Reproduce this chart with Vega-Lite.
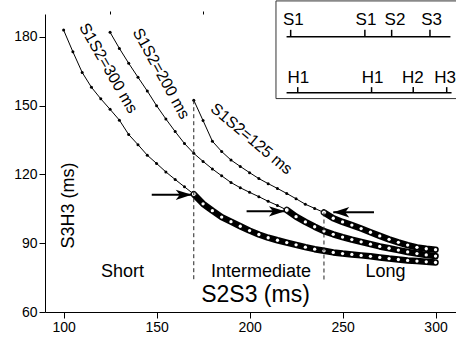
{
  "$schema": "https://vega.github.io/schema/vega-lite/v6.json",
  "width": 411,
  "height": 298,
  "autosize": "none",
  "padding": {"left": 45, "top": 14, "right": 0, "bottom": 27},
  "background": "white",
  "config": {
    "view": {"stroke": null},
    "font": "Liberation Sans, Arial, sans-serif",
    "axis": {"grid": false, "domainColor": "black", "tickColor": "black", "labelColor": "black", "titleColor": "black", "labelFont": "Liberation Sans, Arial, sans-serif", "titleFont": "Liberation Sans, Arial, sans-serif", "titleFontWeight": "normal", "domainWidth": 1, "tickWidth": 1}
  },
  "datasets": {
    "curves": [
      {"s1s2": "300", "s2s3": 100, "s3h3": 183.0, "seg": "thin"},
      {"s1s2": "300", "s2s3": 105, "s3h3": 173.5, "seg": "thin"},
      {"s1s2": "300", "s2s3": 110, "s3h3": 164.5, "seg": "thin"},
      {"s1s2": "300", "s2s3": 115, "s3h3": 158.0, "seg": "thin"},
      {"s1s2": "300", "s2s3": 120, "s3h3": 153.0, "seg": "thin"},
      {"s1s2": "300", "s2s3": 125, "s3h3": 148.4, "seg": "thin"},
      {"s1s2": "300", "s2s3": 130, "s3h3": 143.7, "seg": "thin"},
      {"s1s2": "300", "s2s3": 135, "s3h3": 137.4, "seg": "thin"},
      {"s1s2": "300", "s2s3": 140, "s3h3": 133.0, "seg": "thin"},
      {"s1s2": "300", "s2s3": 145, "s3h3": 128.4, "seg": "thin"},
      {"s1s2": "300", "s2s3": 150, "s3h3": 124.8, "seg": "thin"},
      {"s1s2": "300", "s2s3": 155, "s3h3": 121.1, "seg": "thin"},
      {"s1s2": "300", "s2s3": 160, "s3h3": 117.8, "seg": "thin"},
      {"s1s2": "300", "s2s3": 165, "s3h3": 114.6, "seg": "thin"},
      {"s1s2": "300", "s2s3": 170, "s3h3": 111.4, "seg": "thin"},
      {"s1s2": "300", "s2s3": 170, "s3h3": 111.4, "seg": "thick"},
      {"s1s2": "300", "s2s3": 175, "s3h3": 107.2, "seg": "thick"},
      {"s1s2": "300", "s2s3": 180, "s3h3": 104.2, "seg": "thick"},
      {"s1s2": "300", "s2s3": 185, "s3h3": 101.4, "seg": "thick"},
      {"s1s2": "300", "s2s3": 190, "s3h3": 99.4, "seg": "thick"},
      {"s1s2": "300", "s2s3": 195, "s3h3": 97.4, "seg": "thick"},
      {"s1s2": "300", "s2s3": 200, "s3h3": 95.5, "seg": "thick"},
      {"s1s2": "300", "s2s3": 205, "s3h3": 93.8, "seg": "thick"},
      {"s1s2": "300", "s2s3": 210, "s3h3": 92.4, "seg": "thick"},
      {"s1s2": "300", "s2s3": 215, "s3h3": 91.3, "seg": "thick"},
      {"s1s2": "300", "s2s3": 220, "s3h3": 90.3, "seg": "thick"},
      {"s1s2": "300", "s2s3": 225, "s3h3": 89.3, "seg": "thick"},
      {"s1s2": "300", "s2s3": 230, "s3h3": 88.3, "seg": "thick"},
      {"s1s2": "300", "s2s3": 235, "s3h3": 87.4, "seg": "thick"},
      {"s1s2": "300", "s2s3": 240, "s3h3": 86.7, "seg": "thick"},
      {"s1s2": "300", "s2s3": 245, "s3h3": 86.0, "seg": "thick"},
      {"s1s2": "300", "s2s3": 250, "s3h3": 85.5, "seg": "thick"},
      {"s1s2": "300", "s2s3": 255, "s3h3": 85.1, "seg": "thick"},
      {"s1s2": "300", "s2s3": 260, "s3h3": 84.7, "seg": "thick"},
      {"s1s2": "300", "s2s3": 265, "s3h3": 84.3, "seg": "thick"},
      {"s1s2": "300", "s2s3": 270, "s3h3": 83.8, "seg": "thick"},
      {"s1s2": "300", "s2s3": 275, "s3h3": 83.3, "seg": "thick"},
      {"s1s2": "300", "s2s3": 280, "s3h3": 82.9, "seg": "thick"},
      {"s1s2": "300", "s2s3": 285, "s3h3": 82.5, "seg": "thick"},
      {"s1s2": "300", "s2s3": 290, "s3h3": 82.2, "seg": "thick"},
      {"s1s2": "300", "s2s3": 295, "s3h3": 81.9, "seg": "thick"},
      {"s1s2": "300", "s2s3": 300, "s3h3": 81.6, "seg": "thick"},
      {"s1s2": "200", "s2s3": 125, "s3h3": 182.0, "seg": "thin"},
      {"s1s2": "200", "s2s3": 130, "s3h3": 175.0, "seg": "thin"},
      {"s1s2": "200", "s2s3": 135, "s3h3": 168.5, "seg": "thin"},
      {"s1s2": "200", "s2s3": 140, "s3h3": 162.4, "seg": "thin"},
      {"s1s2": "200", "s2s3": 145, "s3h3": 156.4, "seg": "thin"},
      {"s1s2": "200", "s2s3": 150, "s3h3": 150.0, "seg": "thin"},
      {"s1s2": "200", "s2s3": 155, "s3h3": 144.2, "seg": "thin"},
      {"s1s2": "200", "s2s3": 160, "s3h3": 138.7, "seg": "thin"},
      {"s1s2": "200", "s2s3": 165, "s3h3": 133.5, "seg": "thin"},
      {"s1s2": "200", "s2s3": 170, "s3h3": 129.2, "seg": "thin"},
      {"s1s2": "200", "s2s3": 175, "s3h3": 125.7, "seg": "thin"},
      {"s1s2": "200", "s2s3": 180, "s3h3": 122.4, "seg": "thin"},
      {"s1s2": "200", "s2s3": 185, "s3h3": 119.4, "seg": "thin"},
      {"s1s2": "200", "s2s3": 190, "s3h3": 116.5, "seg": "thin"},
      {"s1s2": "200", "s2s3": 195, "s3h3": 114.2, "seg": "thin"},
      {"s1s2": "200", "s2s3": 200, "s3h3": 112.2, "seg": "thin"},
      {"s1s2": "200", "s2s3": 205, "s3h3": 110.3, "seg": "thin"},
      {"s1s2": "200", "s2s3": 210, "s3h3": 108.3, "seg": "thin"},
      {"s1s2": "200", "s2s3": 215, "s3h3": 106.5, "seg": "thin"},
      {"s1s2": "200", "s2s3": 220, "s3h3": 104.5, "seg": "thin"},
      {"s1s2": "200", "s2s3": 220, "s3h3": 104.5, "seg": "thick"},
      {"s1s2": "200", "s2s3": 225, "s3h3": 101.6, "seg": "thick"},
      {"s1s2": "200", "s2s3": 230, "s3h3": 99.3, "seg": "thick"},
      {"s1s2": "200", "s2s3": 235, "s3h3": 97.2, "seg": "thick"},
      {"s1s2": "200", "s2s3": 240, "s3h3": 95.3, "seg": "thick"},
      {"s1s2": "200", "s2s3": 245, "s3h3": 93.9, "seg": "thick"},
      {"s1s2": "200", "s2s3": 250, "s3h3": 92.7, "seg": "thick"},
      {"s1s2": "200", "s2s3": 255, "s3h3": 91.6, "seg": "thick"},
      {"s1s2": "200", "s2s3": 260, "s3h3": 90.6, "seg": "thick"},
      {"s1s2": "200", "s2s3": 265, "s3h3": 89.6, "seg": "thick"},
      {"s1s2": "200", "s2s3": 270, "s3h3": 88.6, "seg": "thick"},
      {"s1s2": "200", "s2s3": 275, "s3h3": 87.8, "seg": "thick"},
      {"s1s2": "200", "s2s3": 280, "s3h3": 87.0, "seg": "thick"},
      {"s1s2": "200", "s2s3": 285, "s3h3": 86.2, "seg": "thick"},
      {"s1s2": "200", "s2s3": 290, "s3h3": 85.5, "seg": "thick"},
      {"s1s2": "200", "s2s3": 295, "s3h3": 84.9, "seg": "thick"},
      {"s1s2": "200", "s2s3": 300, "s3h3": 84.4, "seg": "thick"},
      {"s1s2": "125", "s2s3": 170, "s3h3": 152.4, "seg": "thin"},
      {"s1s2": "125", "s2s3": 175, "s3h3": 143.5, "seg": "thin"},
      {"s1s2": "125", "s2s3": 180, "s3h3": 134.5, "seg": "thin"},
      {"s1s2": "125", "s2s3": 185, "s3h3": 130.0, "seg": "thin"},
      {"s1s2": "125", "s2s3": 190, "s3h3": 126.3, "seg": "thin"},
      {"s1s2": "125", "s2s3": 195, "s3h3": 123.5, "seg": "thin"},
      {"s1s2": "125", "s2s3": 200, "s3h3": 120.8, "seg": "thin"},
      {"s1s2": "125", "s2s3": 205, "s3h3": 118.2, "seg": "thin"},
      {"s1s2": "125", "s2s3": 210, "s3h3": 116.0, "seg": "thin"},
      {"s1s2": "125", "s2s3": 215, "s3h3": 113.9, "seg": "thin"},
      {"s1s2": "125", "s2s3": 220, "s3h3": 111.7, "seg": "thin"},
      {"s1s2": "125", "s2s3": 225, "s3h3": 109.4, "seg": "thin"},
      {"s1s2": "125", "s2s3": 230, "s3h3": 107.0, "seg": "thin"},
      {"s1s2": "125", "s2s3": 235, "s3h3": 105.2, "seg": "thin"},
      {"s1s2": "125", "s2s3": 240, "s3h3": 103.4, "seg": "thin"},
      {"s1s2": "125", "s2s3": 240, "s3h3": 103.4, "seg": "thick"},
      {"s1s2": "125", "s2s3": 245, "s3h3": 100.9, "seg": "thick"},
      {"s1s2": "125", "s2s3": 250, "s3h3": 99.3, "seg": "thick"},
      {"s1s2": "125", "s2s3": 255, "s3h3": 97.9, "seg": "thick"},
      {"s1s2": "125", "s2s3": 260, "s3h3": 96.4, "seg": "thick"},
      {"s1s2": "125", "s2s3": 265, "s3h3": 94.8, "seg": "thick"},
      {"s1s2": "125", "s2s3": 270, "s3h3": 93.2, "seg": "thick"},
      {"s1s2": "125", "s2s3": 275, "s3h3": 91.7, "seg": "thick"},
      {"s1s2": "125", "s2s3": 280, "s3h3": 90.4, "seg": "thick"},
      {"s1s2": "125", "s2s3": 285, "s3h3": 89.2, "seg": "thick"},
      {"s1s2": "125", "s2s3": 290, "s3h3": 88.2, "seg": "thick"},
      {"s1s2": "125", "s2s3": 295, "s3h3": 87.6, "seg": "thick"},
      {"s1s2": "125", "s2s3": 300, "s3h3": 87.2, "seg": "thick"}
    ],
    "arrows": [
      {"tail": 147.4, "tip": 168.9, "s3h3": 111.1, "dir": "right"},
      {"tail": 198.4, "tip": 219.0, "s3h3": 103.9, "dir": "right"},
      {"tail": 266.9, "tip": 245.0, "s3h3": 103.5, "dir": "left"}
    ],
    "dividers": [
      {"s2s3": 170, "top": 152.4, "bottom": 73.8},
      {"s2s3": 240, "top": 103.4, "bottom": 73.8}
    ],
    "regions": [
      {"label": "Short", "s2s3": 131.7, "s3h3": 75.4},
      {"label": "Intermediate", "s2s3": 206.1, "s3h3": 75.4},
      {"label": "Long", "s2s3": 273.1, "s3h3": 75.4}
    ],
    "curveLabels": [
      {"label": "S1S2=300 ms", "s2s3": 124.0, "s3h3": 166.3},
      {"label": "S1S2=200 ms", "s2s3": 152.4, "s3h3": 164.0},
      {"label": "S1S2=125 ms", "s2s3": 201.0, "s3h3": 135.5}
    ],
    "insetBox": [{"left": 214.2, "right": 313, "top": 195.7, "bottom": 153.1}],
    "insetLines": [
      {"start": 219.9, "end": 308.0, "level": 180.1},
      {"start": 219.9, "end": 308.6, "level": 155.7}
    ],
    "insetTicks": [
      {"pos": 222.1, "low": 180.1, "high": 183.1},
      {"pos": 262.0, "low": 180.1, "high": 183.1},
      {"pos": 276.4, "low": 180.1, "high": 183.1},
      {"pos": 297.0, "low": 180.1, "high": 183.1},
      {"pos": 225.9, "low": 155.7, "high": 158.1},
      {"pos": 265.6, "low": 155.7, "high": 158.1},
      {"pos": 288.0, "low": 155.7, "high": 158.1},
      {"pos": 306.0, "low": 155.7, "high": 158.1}
    ],
    "insetLabels": [
      {"label": "S1", "pos": 223.5, "level": 185.2},
      {"label": "S1", "pos": 262.6, "level": 185.2},
      {"label": "S2", "pos": 278.2, "level": 185.2},
      {"label": "S3", "pos": 297.9, "level": 185.2},
      {"label": "H1", "pos": 226.2, "level": 159.8},
      {"label": "H1", "pos": 266.1, "level": 159.8},
      {"label": "H2", "pos": 287.8, "level": 159.8},
      {"label": "H3", "pos": 305.1, "level": 159.8}
    ]
  },
  "resolve": {"axis": {"x": "independent", "y": "independent"}},
  "layer": [
    {
      "data": {"name": "curves"},
      "transform": [{"filter": "datum.seg === 'thin'"}],
      "mark": {"type": "line", "color": "black", "strokeWidth": 1},
      "encoding": {
        "x": {"field": "s2s3", "type": "quantitative", "scale": {"domain": [90, 311], "nice": false, "zero": false},
          "axis": {"values": [100, 150, 200, 250, 300], "tickSize": 6, "labelFontSize": 14, "labelPadding": 2, "labelFlush": false, "format": "d",
            "title": "S2S3 (ms)", "titleFontSize": 23, "titleX": 210, "titleY": -11, "titleBaseline": "alphabetic", "titleAlign": "center", "titleAnchor": null}},
        "y": {"field": "s3h3", "type": "quantitative", "scale": {"domain": [60, 190], "nice": false, "zero": false},
          "axis": {"values": [60, 90, 120, 150, 180], "tickSize": 6, "labelFontSize": 14, "labelPadding": 2, "labelFlush": false, "format": "d",
            "title": "S3H3 (ms)", "titleFontSize": 18, "titleAngle": -90, "titleX": 32, "titleY": 191, "titleBaseline": "bottom", "titleAlign": "center", "titleAnchor": null}},
        "detail": {"field": "s1s2"}
      }
    },
    {
      "data": {"name": "curves"},
      "transform": [{"filter": "datum.seg === 'thin'"}],
      "mark": {"type": "point", "filled": true, "color": "black", "size": 9, "opacity": 1},
      "encoding": {
        "x": {"field": "s2s3", "type": "quantitative", "scale": {"domain": [90, 311], "nice": false, "zero": false},
          "axis": {"values": [125, 175, 225, 275], "tickSize": 3, "labels": false, "domain": false, "title": null}},
        "y": {"field": "s3h3", "type": "quantitative", "scale": {"domain": [60, 190], "nice": false, "zero": false},
          "axis": {"values": [75, 105, 135, 165], "tickSize": 3, "labels": false, "domain": false, "title": null}}
      }
    },
    {
      "data": {"name": "curves"},
      "transform": [{"filter": "datum.seg === 'thick'"}],
      "mark": {"type": "line", "color": "black", "strokeWidth": 6.5, "strokeCap": "round", "strokeJoin": "round"},
      "encoding": {
        "x": {"field": "s2s3", "type": "quantitative", "scale": {"domain": [90, 311], "nice": false, "zero": false}, "axis": null},
        "y": {"field": "s3h3", "type": "quantitative", "scale": {"domain": [60, 190], "nice": false, "zero": false}, "axis": null},
        "detail": {"field": "s1s2"}
      }
    },
    {
      "data": {"name": "curves"},
      "transform": [{"filter": "datum.seg === 'thick'"}],
      "mark": {"type": "point", "filled": true, "color": "white", "size": 11, "opacity": 1},
      "encoding": {
        "x": {"field": "s2s3", "type": "quantitative", "scale": {"domain": [90, 311], "nice": false, "zero": false}, "axis": null},
        "y": {"field": "s3h3", "type": "quantitative", "scale": {"domain": [60, 190], "nice": false, "zero": false}, "axis": null}
      }
    },
    {
      "data": {"name": "curves"},
      "transform": [
        {"filter": "datum.seg === 'thick'"},
        {"joinaggregate": [{"op": "min", "field": "s2s3", "as": "start"}], "groupby": ["s1s2"]},
        {"filter": "datum.s2s3 === datum.start"}
      ],
      "mark": {"type": "point", "filled": true, "fill": "white", "stroke": "black", "strokeWidth": 1, "size": 24, "opacity": 1},
      "encoding": {
        "x": {"field": "s2s3", "type": "quantitative", "scale": {"domain": [90, 311], "nice": false, "zero": false}, "axis": null},
        "y": {"field": "s3h3", "type": "quantitative", "scale": {"domain": [60, 190], "nice": false, "zero": false}, "axis": null}
      }
    },
    {
      "data": {"name": "dividers"},
      "mark": {"type": "rule", "color": "#222", "strokeWidth": 1, "strokeDash": [4, 3]},
      "encoding": {
        "x": {"field": "s2s3", "type": "quantitative", "scale": {"domain": [90, 311], "nice": false, "zero": false}, "axis": null},
        "y": {"field": "top", "type": "quantitative", "scale": {"domain": [60, 190], "nice": false, "zero": false}, "axis": null},
        "y2": {"field": "bottom"}
      }
    },
    {
      "data": {"name": "arrows"},
      "mark": {"type": "rule", "color": "black", "strokeWidth": 2},
      "encoding": {
        "x": {"field": "tail", "type": "quantitative", "scale": {"domain": [90, 311], "nice": false, "zero": false}, "axis": null},
        "x2": {"field": "tip"},
        "y": {"field": "s3h3", "type": "quantitative", "scale": {"domain": [60, 190], "nice": false, "zero": false}, "axis": null}
      }
    },
    {
      "data": {"name": "arrows"},
      "mark": {"type": "point", "filled": true, "color": "black", "size": 256, "opacity": 1, "strokeWidth": 0},
      "encoding": {
        "x": {"field": "tip", "type": "quantitative", "scale": {"domain": [90, 311], "nice": false, "zero": false}, "axis": null},
        "y": {"field": "s3h3", "type": "quantitative", "scale": {"domain": [60, 190], "nice": false, "zero": false}, "axis": null},
        "shape": {"field": "dir", "type": "nominal", "scale": {"domain": ["right", "left"], "range": ["M0,0L-2,-0.65L-1.5,0L-2,0.65Z", "M0,0L2,-0.65L1.5,0L2,0.65Z"]}, "legend": null}
      }
    },
    {
      "data": {"name": "regions"},
      "mark": {"type": "text", "fontSize": 18, "color": "black", "align": "center", "baseline": "alphabetic"},
      "encoding": {
        "x": {"field": "s2s3", "type": "quantitative", "scale": {"domain": [90, 311], "nice": false, "zero": false}, "axis": null},
        "y": {"field": "s3h3", "type": "quantitative", "scale": {"domain": [60, 190], "nice": false, "zero": false}, "axis": null},
        "text": {"field": "label"}
      }
    },
    {
      "data": {"name": "curveLabels"},
      "transform": [{"filter": "datum.label === 'S1S2=300 ms'"}],
      "mark": {"type": "text", "fontSize": 16, "color": "black", "align": "center", "baseline": "middle", "angle": 60},
      "encoding": {
        "x": {"field": "s2s3", "type": "quantitative", "scale": {"domain": [90, 311], "nice": false, "zero": false}, "axis": null},
        "y": {"field": "s3h3", "type": "quantitative", "scale": {"domain": [60, 190], "nice": false, "zero": false}, "axis": null},
        "text": {"field": "label"}
      }
    },
    {
      "data": {"name": "curveLabels"},
      "transform": [{"filter": "datum.label === 'S1S2=200 ms'"}],
      "mark": {"type": "text", "fontSize": 16, "color": "black", "align": "center", "baseline": "middle", "angle": 61},
      "encoding": {
        "x": {"field": "s2s3", "type": "quantitative", "scale": {"domain": [90, 311], "nice": false, "zero": false}, "axis": null},
        "y": {"field": "s3h3", "type": "quantitative", "scale": {"domain": [60, 190], "nice": false, "zero": false}, "axis": null},
        "text": {"field": "label"}
      }
    },
    {
      "data": {"name": "curveLabels"},
      "transform": [{"filter": "datum.label === 'S1S2=125 ms'"}],
      "mark": {"type": "text", "fontSize": 16, "color": "black", "align": "center", "baseline": "middle", "angle": 40},
      "encoding": {
        "x": {"field": "s2s3", "type": "quantitative", "scale": {"domain": [90, 311], "nice": false, "zero": false}, "axis": null},
        "y": {"field": "s3h3", "type": "quantitative", "scale": {"domain": [60, 190], "nice": false, "zero": false}, "axis": null},
        "text": {"field": "label"}
      }
    },
    {
      "data": {"name": "insetBox"},
      "mark": {"type": "rect", "fill": "white", "stroke": "#333", "strokeWidth": 1},
      "encoding": {
        "x": {"field": "left", "type": "quantitative", "scale": {"domain": [90, 311], "nice": false, "zero": false}, "axis": null},
        "x2": {"field": "right"},
        "y": {"field": "top", "type": "quantitative", "scale": {"domain": [60, 190], "nice": false, "zero": false}, "axis": null},
        "y2": {"field": "bottom"}
      }
    },
    {
      "data": {"name": "insetLines"},
      "mark": {"type": "rule", "color": "black", "strokeWidth": 1.5},
      "encoding": {
        "x": {"field": "start", "type": "quantitative", "scale": {"domain": [90, 311], "nice": false, "zero": false}, "axis": null},
        "x2": {"field": "end"},
        "y": {"field": "level", "type": "quantitative", "scale": {"domain": [60, 190], "nice": false, "zero": false}, "axis": null}
      }
    },
    {
      "data": {"name": "insetTicks"},
      "mark": {"type": "rule", "color": "black", "strokeWidth": 1.5},
      "encoding": {
        "x": {"field": "pos", "type": "quantitative", "scale": {"domain": [90, 311], "nice": false, "zero": false}, "axis": null},
        "y": {"field": "low", "type": "quantitative", "scale": {"domain": [60, 190], "nice": false, "zero": false}, "axis": null},
        "y2": {"field": "high"}
      }
    },
    {
      "data": {"name": "insetLabels"},
      "mark": {"type": "text", "fontSize": 17, "color": "black", "align": "center", "baseline": "alphabetic"},
      "encoding": {
        "x": {"field": "pos", "type": "quantitative", "scale": {"domain": [90, 311], "nice": false, "zero": false}, "axis": null},
        "y": {"field": "level", "type": "quantitative", "scale": {"domain": [60, 190], "nice": false, "zero": false}, "axis": null},
        "text": {"field": "label"}
      }
    }
  ]
}
